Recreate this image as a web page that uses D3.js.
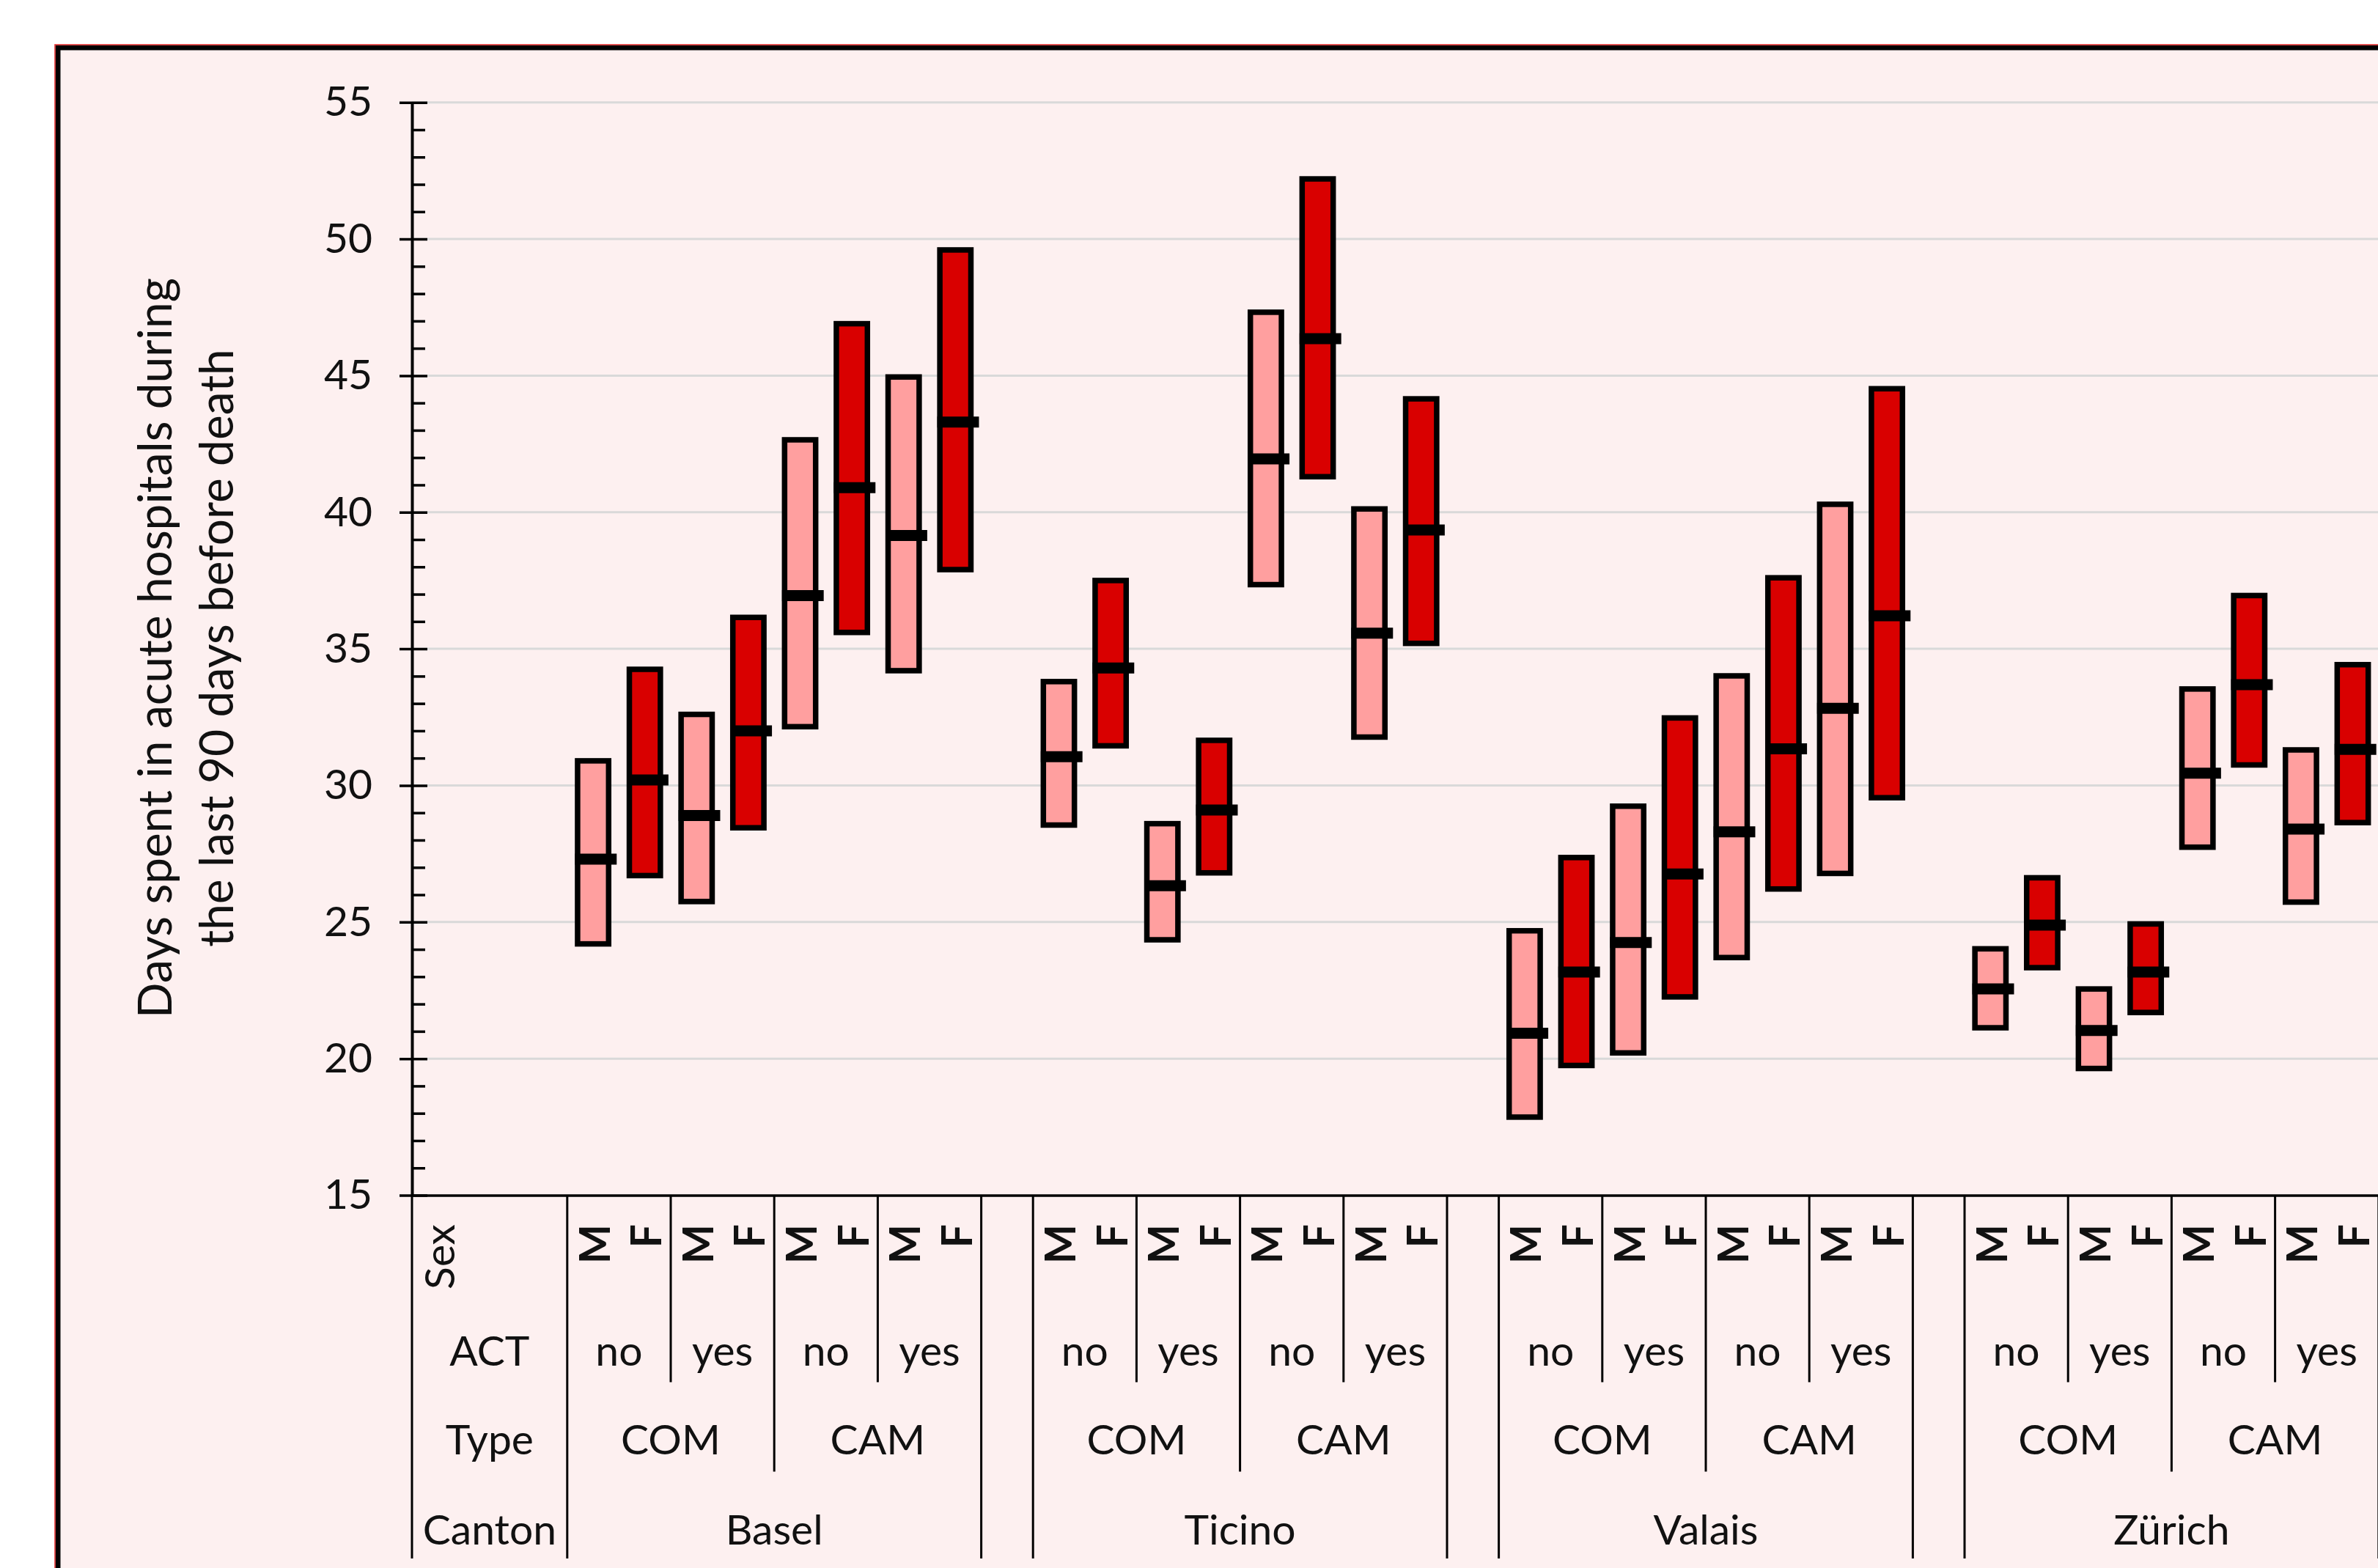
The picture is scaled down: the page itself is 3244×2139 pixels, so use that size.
<!DOCTYPE html>
<html>
<head>
<meta charset="utf-8">
<script src="https://cdn.jsdelivr.net/npm/d3@7"></script>
<style>
  html, body { margin: 0; padding: 0; background: #ffffff; }
  svg { display: block; }
  text { font-family: "Lato", "Open Sans", "DejaVu Sans", sans-serif; fill: #111; }
</style>
</head>
<body>
<svg id="chart" width="3244" height="2139"></svg>
<script>
// ---- Category levels (outermost first) ----
const cantons = ["Basel", "Ticino", "Valais", "Zürich"];
const types = ["COM", "CAM"];
const acts = ["no", "yes"];
const sexes = ["M", "F"];
const headerLabels = { sex: "Sex", act: "ACT", type: "Type", canton: "Canton" };

// ---- Values per canton, ordered: type > ACT > sex ----
// (COM no M, COM no F, COM yes M, COM yes F, CAM no M, CAM no F, CAM yes M, CAM yes F)
const lowerBasel  = [24.2, 26.7, 25.75, 28.45, 32.15, 35.6, 34.2, 37.9];
const medianBasel = [27.3, 30.2, 28.9, 32.0, 36.95, 40.9, 39.15, 43.3];
const upperBasel  = [30.9, 34.25, 32.6, 36.15, 42.65, 46.9, 44.95, 49.6];

const lowerTicino  = [28.55, 31.45, 24.35, 26.8, 37.35, 41.3, 31.77, 35.2];
const medianTicino = [31.05, 34.3, 26.33, 29.1, 41.95, 46.35, 35.57, 39.35];
const upperTicino  = [33.8, 37.5, 28.6, 31.65, 47.32, 52.2, 40.12, 44.15];

const lowerValais  = [17.86, 19.75, 20.21, 22.26, 23.7, 26.21, 26.78, 29.55];
const medianValais = [20.93, 23.17, 24.25, 26.76, 28.3, 31.34, 32.82, 36.21];
const upperValais  = [24.68, 27.36, 29.24, 32.47, 34.01, 37.6, 40.29, 44.52];

const lowerZurich  = [21.13, 23.33, 19.64, 21.69, 27.74, 30.75, 25.73, 28.64];
const medianZurich = [22.55, 24.89, 21.03, 23.17, 30.45, 33.69, 28.4, 31.32];
const upperZurich  = [24.02, 26.62, 22.55, 24.93, 33.53, 36.95, 31.3, 34.42];

const lowerValues  = [lowerBasel, lowerTicino, lowerValais, lowerZurich];
const medianValues = [medianBasel, medianTicino, medianValais, medianZurich];
const upperValues  = [upperBasel, upperTicino, upperValais, upperZurich];

// ---- Y axis ticks ----
const yMajorTicks = [15, 20, 25, 30, 35, 40, 45, 50, 55];
const yTitleLines = ["Days spent in acute hospitals during", "the last 90 days before death"];

const sexColor = { M: "#FF9F9F", F: "#D90000" };

// ---- Build the slot list for the multi-level category axis ----
const slots = [];
for (let h = 0; h < 3; h++) slots.push({ key: "head" + h, kind: "head", h });
cantons.forEach((canton, ci) => {
  let k = 0;
  types.forEach(type => acts.forEach(act => sexes.forEach(sex => {
    slots.push({
      key: [canton, type, act, sex].join("|"), kind: "data",
      canton, type, act, sex,
      lo: lowerValues[ci][k], med: medianValues[ci][k], hi: upperValues[ci][k]
    });
    k++;
  })));
  if (ci < cantons.length - 1) slots.push({ key: "gap" + ci, kind: "gap" });
});

// ---- Geometry ----
const W = 3244, H = 2139;
const plotLeft = 562, slotW = 70.6;
const yBottom = 1630.5, yTop = 139.7;
const rowSexTop = 1670, rowActBase = 1863, rowTypeBase = 1984, rowCantonBase = 2107;
const lineActEnd = 1885.5, lineTypeEnd = 2007.6, lineFullEnd = 2126;

const svg = d3.select("#chart");

const x = d3.scaleBand()
  .domain(slots.map(d => d.key))
  .range([plotLeft, plotLeft + slots.length * slotW])
  .paddingInner(0).paddingOuter(0);
const y = d3.scaleLinear().domain([15, 55]).range([yBottom, yTop]);

// chart area background and frame
svg.append("rect").attr("x", 0).attr("y", 0).attr("width", W).attr("height", H).attr("fill", "#ffffff");
svg.append("rect").attr("x", 79).attr("y", 65).attr("width", W + 200).attr("height", H + 200)
  .attr("fill", "#FDF0F0").attr("stroke", "#000").attr("stroke-width", 7);
svg.append("rect").attr("x", 75).attr("y", 61).attr("width", W + 200).attr("height", H + 200)
  .attr("fill", "none").attr("stroke", "#E03030").attr("stroke-width", 1.6);

// horizontal gridlines
svg.append("g").selectAll("line")
  .data(yMajorTicks.filter(v => v > 15))
  .join("line")
  .attr("x1", plotLeft).attr("x2", W)
  .attr("y1", d => y(d)).attr("y2", d => y(d))
  .attr("stroke", "#D9D9D9").attr("stroke-width", 3);

// range bars
const dataSlots = slots.filter(d => d.kind === "data");
const barW = x.bandwidth() * 0.6;
svg.append("g").selectAll("rect")
  .data(dataSlots)
  .join("rect")
  .attr("x", d => x(d.key) + (x.bandwidth() - barW) / 2)
  .attr("width", barW)
  .attr("y", d => y(d.hi))
  .attr("height", d => y(d.lo) - y(d.hi))
  .attr("fill", d => sexColor[d.sex])
  .attr("stroke", "#000").attr("stroke-width", 7.5);

// median markers
svg.append("g").selectAll("line")
  .data(dataSlots)
  .join("line")
  .attr("x1", d => x(d.key) + x.bandwidth() / 2 - barW / 2 - 3.5)
  .attr("x2", d => x(d.key) + x.bandwidth() / 2 + barW / 2 + 11)
  .attr("y1", d => y(d.med)).attr("y2", d => y(d.med))
  .attr("stroke", "#000").attr("stroke-width", 15);

// y axis: major ticks crossing the axis line, minor ticks inside
const fontSize = 57;
const titleSize = 64;
const yAxis = svg.append("g").attr("transform", `translate(${plotLeft},0)`)
  .call(d3.axisLeft(y).tickValues(yMajorTicks).tickSize(17).tickSizeOuter(0).tickPadding(37));
yAxis.select(".domain").attr("stroke", "#000").attr("stroke-width", 4);
yAxis.selectAll(".tick line").attr("x1", 21).attr("stroke", "#000").attr("stroke-width", 3.5);
yAxis.selectAll(".tick text")
  .style("font-size", fontSize + "px").style("font-family", "Lato, 'Open Sans', sans-serif")
  .attr("fill", "#111");

const minorTicks = d3.range(15, 56, 1).filter(v => v % 5 !== 0);
const yMinor = svg.append("g").attr("transform", `translate(${plotLeft},0)`)
  .call(d3.axisLeft(y).tickValues(minorTicks).tickSize(-18).tickFormat(""));
yMinor.select(".domain").remove();
yMinor.selectAll(".tick line").attr("stroke", "#000").attr("stroke-width", 3.5);

// x axis line
const xAxis = svg.append("g").attr("transform", `translate(0,${yBottom})`)
  .call(d3.axisBottom(x).tickValues([]).tickSizeOuter(0));
xAxis.select(".domain").attr("stroke", "#000").attr("stroke-width", 3.5);

// y axis title
yTitleLines.forEach((line, i) => {
  svg.append("text")
    .attr("transform", `translate(${234 + i * 84},884) rotate(-90)`)
    .attr("text-anchor", "middle")
    .style("font-size", titleSize + "px")
    .text(line);
});

// ---- multi-level category labels and divider lines ----
const levelOf = (a, b) => {
  if (!a || !b || a.kind !== "data" || b.kind !== "data") {
    if (a && b && a.kind === "head" && b.kind === "head") return null;
    return "full";
  }
  if (a.canton !== b.canton) return "full";
  if (a.type !== b.type) return "type";
  if (a.act !== b.act) return "act";
  return null;
};
const lineEnd = { full: lineFullEnd, type: lineTypeEnd, act: lineActEnd };
const boundaries = [];
for (let k = 0; k <= slots.length; k++) {
  const lvl = levelOf(slots[k - 1], slots[k]);
  if (lvl) boundaries.push({ k, lvl });
}
const bx = k => k < slots.length ? x(slots[k].key) : x.range()[1];
svg.append("g").selectAll("line")
  .data(boundaries)
  .join("line")
  .attr("x1", d => bx(d.k)).attr("x2", d => bx(d.k))
  .attr("y1", yBottom).attr("y2", d => lineEnd[d.lvl])
  .attr("stroke", "#000").attr("stroke-width", 3);

// sex labels (rotated)
const capH = fontSize * 0.72;
svg.append("g").selectAll("text")
  .data(slots.filter(d => d.kind !== "gap" && (d.kind === "data" || d.h === 0)))
  .join("text")
  .attr("transform", d => `translate(${x(d.key) + x.bandwidth() / 2 + 2 + capH / 2},${rowSexTop}) rotate(-90)`)
  .attr("text-anchor", "end")
  .style("font-size", fontSize + "px")
  .style("font-weight", d => d.kind === "data" ? 700 : 400)
  .text(d => d.kind === "data" ? d.sex : headerLabels.sex);

// grouped labels for the ACT, Type and Canton rows
function groupRuns(keyFn) {
  const runs = [];
  slots.forEach((s, i) => {
    const key = keyFn(s);
    if (key === null) return;
    const last = runs[runs.length - 1];
    if (last && last.key === key && last.end === i) last.end = i + 1;
    else runs.push({ key, start: i, end: i + 1, slot: s });
  });
  return runs;
}
const rows = [
  { base: rowActBase, key: s => s.kind === "data" ? `${s.canton}|${s.type}|${s.act}` : s.kind === "head" ? "head" : null,
    label: r => r.slot.kind === "head" ? headerLabels.act : r.slot.act },
  { base: rowTypeBase, key: s => s.kind === "data" ? `${s.canton}|${s.type}` : s.kind === "head" ? "head" : null,
    label: r => r.slot.kind === "head" ? headerLabels.type : r.slot.type },
  { base: rowCantonBase, key: s => s.kind === "data" ? s.canton : s.kind === "head" ? "head" : null,
    label: r => r.slot.kind === "head" ? headerLabels.canton : r.slot.canton }
];
rows.forEach(row => {
  svg.append("g").selectAll("text")
    .data(groupRuns(row.key))
    .join("text")
    .attr("x", r => (bx(r.start) + bx(r.end)) / 2)
    .attr("y", row.base)
    .attr("text-anchor", "middle")
    .style("font-size", fontSize + "px")
    .text(row.label);
});
</script>
</body>
</html>
